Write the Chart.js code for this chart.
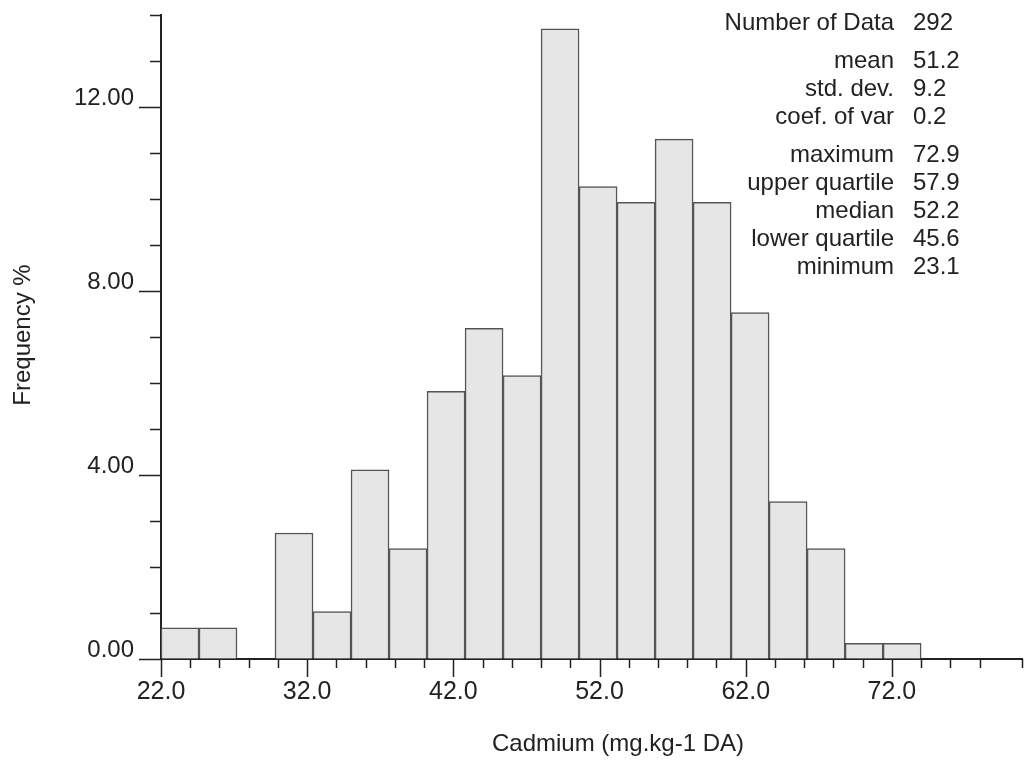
<!DOCTYPE html>
<html>
<head>
<meta charset="utf-8">
<title>Cadmium histogram</title>
<script src="https://cdn.jsdelivr.net/npm/chart.js@4.4.0/dist/chart.umd.min.js"></script>
<style>
  html, body { margin: 0; padding: 0; background: #fff; }
  canvas { display: block; }
</style>
</head>
<body>
<canvas id="histChart" width="1026" height="764"></canvas>
<script>
// bin centres (mg.kg-1 DA), bin width 2.6
const binCenters = [23.3, 25.9, 28.5, 31.1, 33.7, 36.3, 38.9, 41.5, 44.1, 46.7,
                    49.3, 51.9, 54.5, 57.1, 59.7, 62.3, 64.9, 67.5, 70.1, 72.7];
// frequency in % of 292 samples
const frequency = [0.68, 0.68, 0, 2.74, 1.03, 4.11, 2.40, 5.82, 7.19, 6.16,
                   13.70, 10.27, 9.93, 11.30, 9.93, 7.53, 3.42, 2.40, 0.34, 0.34];

// summary statistics block
const statLabels = ['Number of Data', 'mean', 'std. dev.', 'coef. of var',
                    'maximum', 'upper quartile', 'median', 'lower quartile', 'minimum'];
const statValues = ['292', '51.2', '9.2', '0.2', '72.9', '57.9', '52.2', '45.6', '23.1'];
const statGroups = [1, 3, 5]; // rows in each group

const xMin = 22, xMax = 80.9;
const yMin = 0, yMax = 14;
const xLabelEvery = 10;  // labelled ticks 22.0, 32.0 ...
const yLabelEvery = 4;   // labelled ticks 0.00, 4.00 ...
const xTitle = 'Cadmium (mg.kg-1 DA)';
const yTitle = 'Frequency %';

const FONT = '"Liberation Sans", Arial, Helvetica, sans-serif';
const INK = '#222';

// Tick marks (long for labelled ticks), axis titles and the stats text
const decorPlugin = {
  id: 'decor',
  afterDraw(chart) {
    const ctx = chart.ctx;
    const xs = chart.scales.xAxis, ys = chart.scales.y;
    const area = chart.chartArea;
    ctx.save();
    ctx.strokeStyle = INK;
    ctx.lineWidth = 1.5;
    ctx.beginPath();
    xs.ticks.forEach(t => {
      const px = Math.round(xs.getPixelForValue(t.value)) + 0.5;
      const major = Math.abs((t.value - xMin) % xLabelEvery) < 1e-6;
      ctx.moveTo(px, area.bottom);
      ctx.lineTo(px, area.bottom + (major ? 18 : 9));
    });
    ys.ticks.forEach(t => {
      const py = Math.round(ys.getPixelForValue(t.value)) + 0.5;
      const major = Math.abs(t.value % yLabelEvery) < 1e-6;
      ctx.moveTo(area.left, py);
      ctx.lineTo(area.left - (major ? 22 : 11), py);
    });
    ctx.stroke();

    ctx.fillStyle = INK;
    ctx.font = '24px ' + FONT;
    ctx.textBaseline = 'middle';
    ctx.textAlign = 'center';
    ctx.fillText(xTitle, 618, 744);

    ctx.save();
    ctx.translate(23, 335);
    ctx.rotate(-Math.PI / 2);
    ctx.fillText(yTitle, 0, 0);
    ctx.restore();

    ctx.textBaseline = 'alphabetic';
    let y = 30, row = 0;
    statGroups.forEach(n => {
      for (let i = 0; i < n; i++, row++) {
        ctx.textAlign = 'right';
        ctx.fillText(statLabels[row], 894, y);
        ctx.textAlign = 'left';
        ctx.fillText(statValues[row], 913, y);
        y += 28;
      }
      y += 10;
    });
    ctx.restore();
  }
};

new Chart(document.getElementById('histChart'), {
  type: 'bar',
  data: {
    datasets: [{
      data: binCenters.map((c, i) => ({ x: c, y: frequency[i] })),
      backgroundColor: '#e6e6e6',
      borderColor: '#555',
      borderWidth: 1.5,
      barPercentage: 1,
      categoryPercentage: 1
    }]
  },
  options: {
    responsive: false,
    animation: false,
    layout: { padding: { top: 15, right: 4, left: 0, bottom: 0 } },
    plugins: { legend: { display: false }, tooltip: { enabled: false } },
    scales: {
      // scale the bars sit on (sparse ticks so bars fill the whole bin)
      x: {
        type: 'linear',
        display: false,
        offset: false,
        min: xMin,
        max: xMax,
        ticks: { stepSize: 50 }
      },
      // visible axis with ticks every 2
      xAxis: {
        type: 'linear',
        position: 'bottom',
        offset: false,
        min: xMin,
        max: xMax,
        afterFit(scale) {
          scale.height = 105;
          scale.paddingLeft = 0;
          scale.paddingRight = 0;
        },
        grid: { display: true, drawOnChartArea: false, drawTicks: false },
        border: { display: true, color: INK, width: 2 },
        ticks: {
          stepSize: 2,
          autoSkip: false,
          maxRotation: 0,
          padding: 18,
          color: INK,
          font: { family: FONT, size: 25 },
          callback: v => Math.abs((v - xMin) % xLabelEvery) < 1e-6 ? v.toFixed(1) : ''
        }
      },
      y: {
        min: yMin,
        max: yMax,
        afterFit(scale) {
          scale.width = 161;
          scale.paddingTop = 0;
          scale.paddingBottom = 0;
        },
        grid: { display: true, drawOnChartArea: false, drawTicks: false },
        border: { display: true, color: INK, width: 2 },
        ticks: {
          stepSize: 1,
          autoSkip: false,
          padding: 27,
          labelOffset: -9,
          color: INK,
          font: { family: FONT, size: 24 },
          callback: v => v % yLabelEvery === 0 ? v.toFixed(2) : ''
        }
      }
    }
  },
  plugins: [decorPlugin]
});
</script>
</body>
</html>
